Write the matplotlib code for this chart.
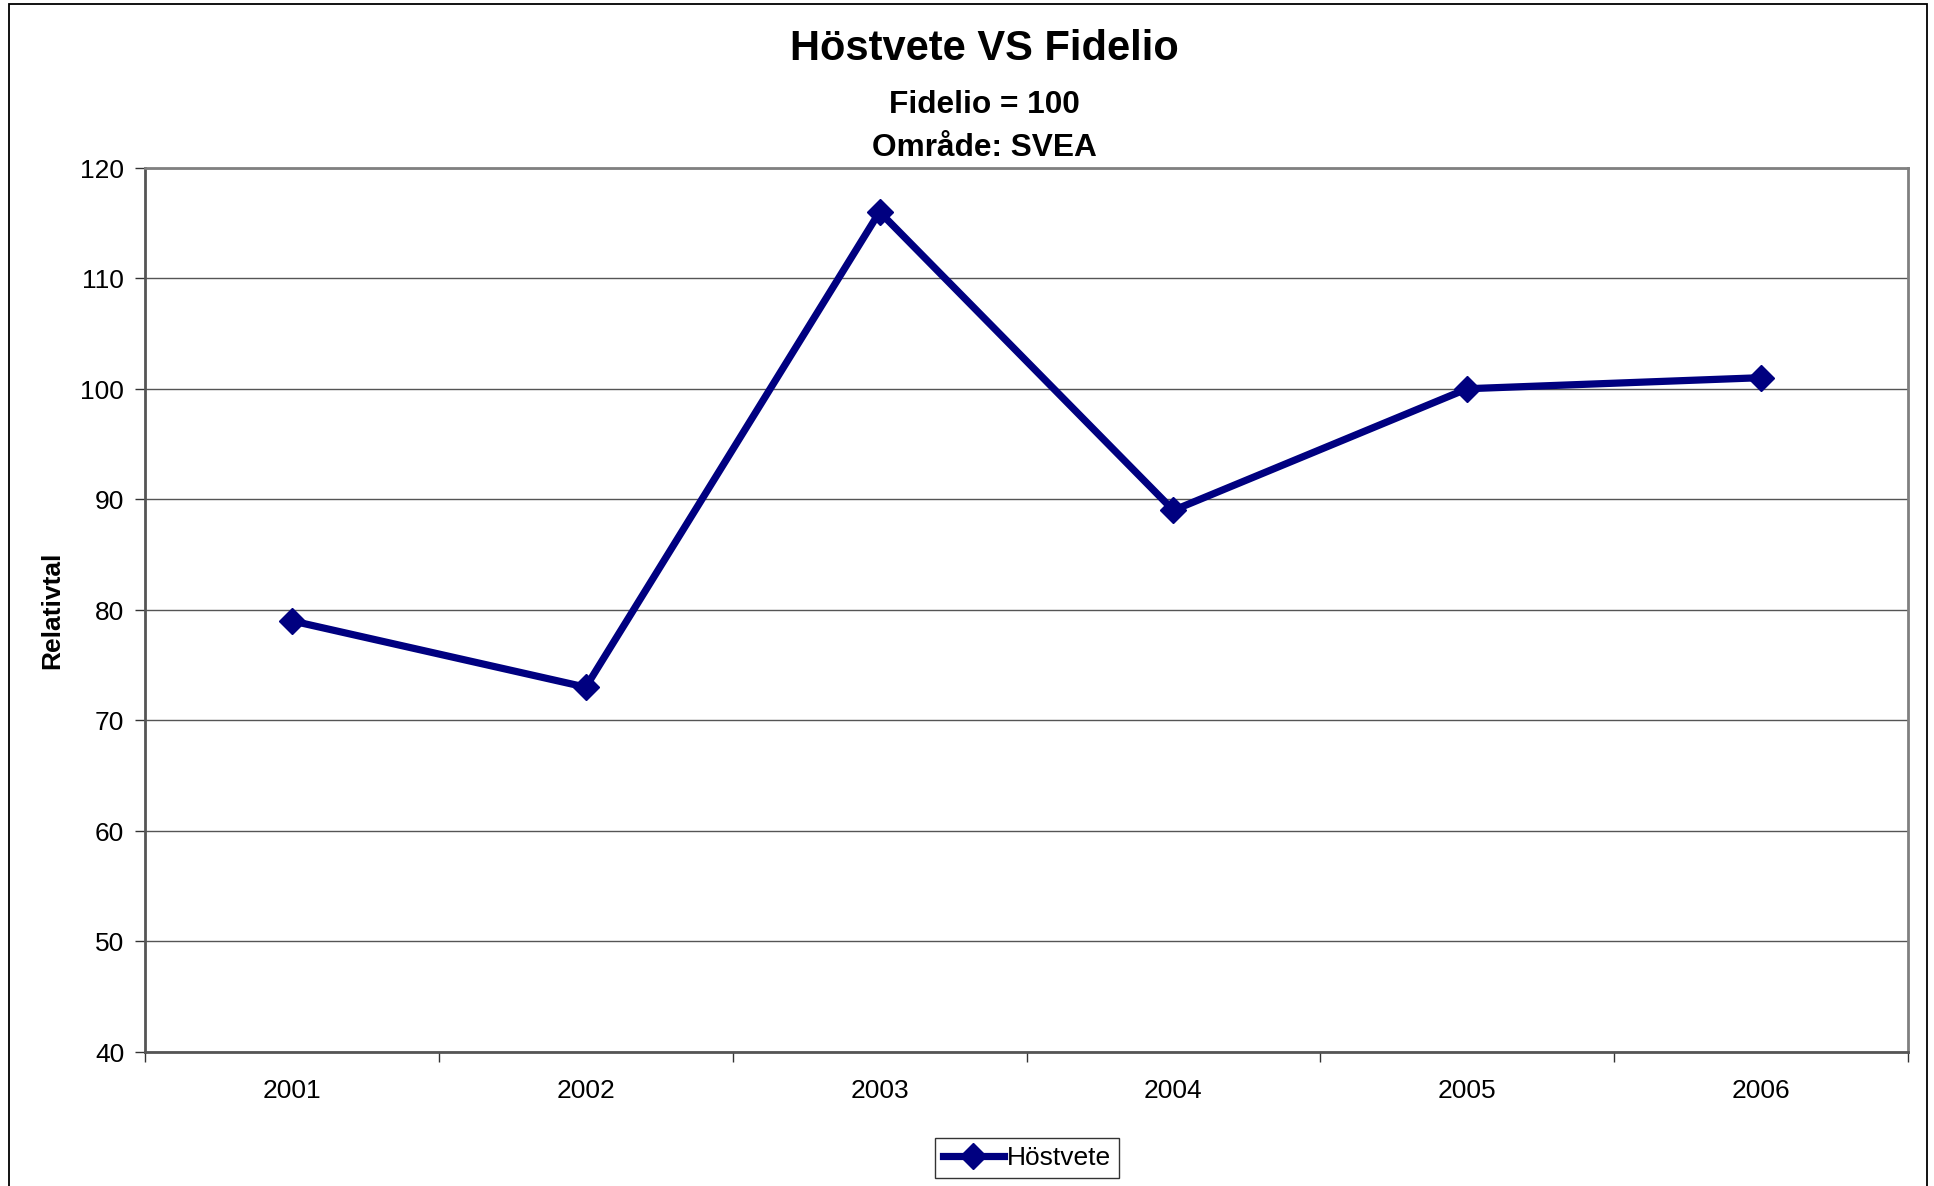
import matplotlib
matplotlib.use("Agg")
import matplotlib.pyplot as plt
from matplotlib.patches import Rectangle

# === DATA ===
years = ["2001", "2002", "2003", "2004", "2005", "2006"]
hostvete = [79, 73, 116, 89, 100, 101]
y_ticks = [40, 50, 60, 70, 80, 90, 100, 110, 120]

plt.rcParams['font.family'] = ['Liberation Sans', 'DejaVu Sans']

W, H = 1934, 1186
fig = plt.figure(figsize=(W / 100, H / 100 + 0.004), dpi=100)

# outer chart border
fig.patches.append(Rectangle((9 / W, -0.01), (1927 - 9) / W, 1.01 - 4 / H,
                             transform=fig.transFigure, fill=False,
                             edgecolor="black", linewidth=1.3))

# plot area
left, right, top, bottom = 145, 1908, 168, 1052
ax = fig.add_axes([left / W, 1 - bottom / H, (right - left) / W, (bottom - top) / H])

x = list(range(len(years)))
ax.plot(x, hostvete, color="#000080", linewidth=5.2, marker="D", markersize=13,
        markeredgecolor="#000080", markerfacecolor="#000080", label="Höstvete",
        zorder=3)

ax.set_xlim(-0.5, len(years) - 0.5)
ax.set_ylim(40, 120)
ax.set_yticks(y_ticks)
ax.set_yticklabels([str(v) for v in y_ticks], fontsize=19)
ax.yaxis.grid(True, color="#555555", linewidth=1.0)
ax.set_axisbelow(True)

# category labels centered, ticks on boundaries
ax.set_xticks(x)
ax.set_xticklabels(years, fontsize=19)
ax.tick_params(axis="x", which="major", length=0, pad=19)
ax.set_xticks([i - 0.5 for i in range(len(years) + 1)], minor=True)
ax.tick_params(axis="x", which="minor", length=7, width=1, color="#333333", direction="out")
ax.tick_params(axis="y", length=7, width=1, color="#333333", pad=8)

for s in ["top", "right"]:
    ax.spines[s].set_color("#808080")
    ax.spines[s].set_linewidth(2)
for s in ["left", "bottom"]:
    ax.spines[s].set_color("#555555")
    ax.spines[s].set_linewidth(2)

fig.text(52 / W, 1 - 610 / H, "Relativtal", rotation=90, ha="center", va="center",
         fontsize=19, fontweight="bold")

fig.text(984 / W, 1 - 49 / H, "Höstvete VS Fidelio", ha="center", va="center",
         fontsize=30, fontweight="bold")
fig.text(984 / W, 1 - 105 / H, "Fidelio = 100", ha="center", va="center",
         fontsize=22.8, fontweight="bold")
fig.text(984 / W, 1 - 148 / H, "Område: SVEA", ha="center", va="center",
         fontsize=22.8, fontweight="bold")

leg = fig.legend(loc="center", bbox_to_anchor=(1027 / W, 1 - 1158 / H),
                 fontsize=19, frameon=True, fancybox=False, handlelength=2.3,
                 handletextpad=0.12, borderpad=0.3, borderaxespad=0)
leg.get_frame().set_edgecolor("black")
leg.get_frame().set_linewidth(1.0)

fig.savefig("out.png", dpi=100, facecolor="white")
